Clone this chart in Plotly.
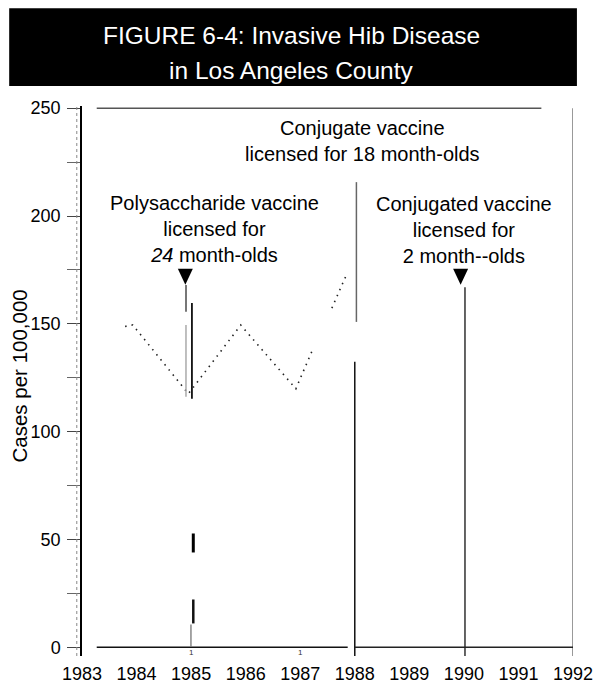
import plotly.graph_objects as go

# ---------------- data ----------------
dot_years = [1983.79, 1983.93, 1984.95, 1985.91, 1986.92, 1987.24, None, 1987.58, 1987.86]
dot_values = [148.8, 149.5, 117.6, 149.4, 119.9, 138.8, None, 157.3, 173.5]

x_tick_years = list(range(1983, 1993))
y_tick_values = [0, 50, 100, 150, 200, 250]
y_minor_values = [25, 75, 125, 175, 225]

title_lines = ["FIGURE 6-4: Invasive Hib Disease", "in Los Angeles County"]
y_title = "Cases per 100,000"

event_labels = [
    "Polysaccharide vaccine<br>licensed for<br><i>24</i> month-olds",
    "Conjugate vaccine<br>licensed for 18 month-olds",
    "Conjugated vaccine<br>licensed for<br>2 month--olds",
]
event_label_x = [1985.42, 1988.14, 1990.0]
event_label_y = [194.2, 234.7, 193.5]

marker_years = [1984.894, 1989.94]
marker_levels = [171.8, 171.8]

# reference segments (x, y0, y1, color, width)
vertical_segments = [
    (1984.906, 168.0, 155.6, "#777777", 2.0),
    (1984.906, 149.5, 116.2, "#aaaaaa", 1.5),
    (1985.015, 159.7, 115.3, "#111111", 1.8),
    (1985.04, 52.8, 44.0, "#000000", 3.0),
    (1985.04, 22.2, 11.1, "#111111", 2.5),
    (1984.997, 10.6, 0.5, "#888888", 1.5),
    (1988.03, 215.7, 150.9, "#666666", 1.5),
    (1988.0, 132.4, -4.0, "#111111", 1.5),
    (1990.02, 167.0, -4.0, "#111111", 1.3),
    (1992.0, 250.0, -4.0, "#777777", 1.5),
]
horizontal_segments = [
    (250.0, 1983.27, 1991.42, "#555555", 1.5),
    (0.0, 1983.27, 1987.87, "#111111", 1.5),
    (0.0, 1988.0, 1992.0, "#222222", 1.5),
]
tiny_tick_years = [1985.0, 1987.0]

FONT = "Liberation Sans, Arial, sans-serif"

fig = go.Figure()
fig.add_trace(go.Scatter(
    x=dot_years, y=dot_values, mode="lines",
    line=dict(color="#222222", width=1.6, dash="1.5px,5px"),
    connectgaps=False, showlegend=False, hoverinfo="skip",
))

shapes = []
for (x, y0, y1, c, w) in vertical_segments:
    shapes.append(dict(type="line", xref="x", yref="y", x0=x, x1=x, y0=y0, y1=y1,
                       line=dict(color=c, width=w)))
for (y, x0, x1, c, w) in horizontal_segments:
    shapes.append(dict(type="line", xref="x", yref="y", x0=x0, x1=x1, y0=y, y1=y,
                       line=dict(color=c, width=w)))
for (mx, my) in zip(marker_years, marker_levels):
    shapes.append(dict(type="path", xref="x", yref="y", xsizemode="pixel", ysizemode="pixel",
                       xanchor=mx, yanchor=my, path="M -7.5,8 L 7.5,8 L 0,-8 Z",
                       fillcolor="black", line=dict(width=0)))
# title bar
shapes.append(dict(type="rect", xref="paper", yref="paper", x0=-0.1483, x1=1.008,
                   y0=1.0363, y1=1.1779, fillcolor="black", line=dict(width=0), layer="below"))
# thin secondary axis line
shapes.append(dict(type="line", xref="paper", yref="paper", x0=-0.0106, x1=-0.0106, y0=0.0, y1=1.0,
                   line=dict(color="#888888", width=1, dash="dot")))

annotations = []
for t, x, y in zip(event_labels, event_label_x, event_label_y):
    annotations.append(dict(text=t, x=x, y=y, xref="x", yref="y", showarrow=False,
                            font=dict(family=FONT, size=20, color="black"),
                            xanchor="center", yanchor="middle", align="center"))
title_y = [1.1289, 1.0653]
for t, y in zip(title_lines, title_y):
    annotations.append(dict(text=t, x=0.4269, y=y, xref="paper", yref="paper", showarrow=False,
                            font=dict(family=FONT, size=24.5, color="white"),
                            xanchor="center", yanchor="middle"))
annotations.append(dict(text=y_title, x=-0.1263, y=0.51, xref="paper", yref="paper", showarrow=False,
                        textangle=-90, font=dict(family=FONT, size=20.5, color="black"),
                        xanchor="center", yanchor="middle"))
for tx in tiny_tick_years:
    annotations.append(dict(text="1", x=tx, y=-2.3, xref="x", yref="y", showarrow=False,
                            font=dict(family=FONT, size=8, color="#333333"),
                            xanchor="center", yanchor="middle"))

fig.update_layout(
    width=605, height=696,
    margin=dict(l=82, r=24, t=106, b=39, pad=0),
    paper_bgcolor="white", plot_bgcolor="white",
    font=dict(family=FONT, color="black"),
    shapes=shapes, annotations=annotations, showlegend=False,
    xaxis=dict(range=[1983, 1992], tickvals=x_tick_years, ticktext=[str(v) for v in x_tick_years],
               showgrid=False, zeroline=False, showline=False, ticks="",
               tickfont=dict(family=FONT, size=18, color="black"), ticklabelstandoff=5),
    yaxis=dict(range=[-4, 251], tickvals=y_tick_values, showgrid=False, zeroline=False,
               showline=True, linecolor="black", linewidth=1.5,
               ticks="outside", ticklen=13, tickwidth=1, tickcolor="#444444",
               minor=dict(tickvals=y_minor_values, ticks="outside", ticklen=13, tickwidth=1,
                          tickcolor="#666666", showgrid=False),
               tickfont=dict(family=FONT, size=18, color="black"), ticklabelstandoff=3),
)

fig.write_html("out.html", config={"displayModeBar": False},
               post_script="document.body.style.margin='0';document.body.style.padding='0';")
